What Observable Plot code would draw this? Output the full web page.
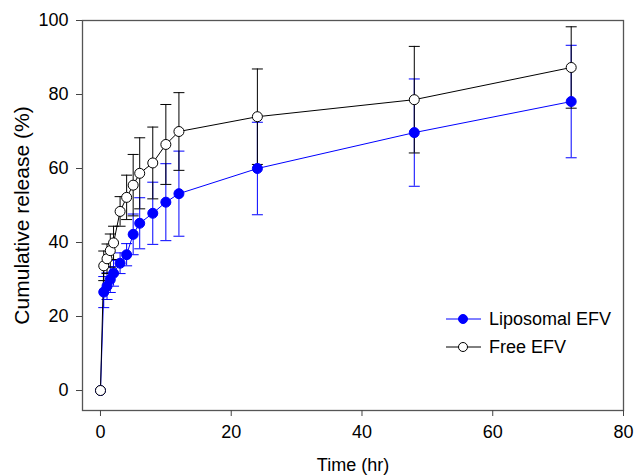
<!DOCTYPE html>
<html>
<head>
<meta charset="utf-8">
<script src="https://cdn.jsdelivr.net/npm/d3@7"></script>
<script src="https://cdn.jsdelivr.net/npm/@observablehq/plot@0.6"></script>
<style>
  html, body { margin: 0; padding: 0; background: #fff; }
  #wrap { position: relative; width: 636px; height: 475px; font-family: Arial, "Liberation Sans", sans-serif; }
  #legend { position: absolute; left: 440px; top: 300px; }
</style>
</head>
<body>
<div id="wrap">
  <div id="chart"></div>
  <svg id="legend" width="196" height="60"></svg>
</div>
<script>
// ---- data ----
const times    = [0, 0.5, 1, 1.5, 2, 3, 4, 5, 6, 8, 10, 12, 24, 48, 72];
const lipoMean = [0, 26.6, 28.2, 30.0, 31.7, 34.4, 36.7, 42.2, 45.2, 47.9, 50.9, 53.2, 60.0, 69.7, 78.1];
const lipoSD   = [0, 4.2, 3.6, 3.5, 3.5, 2.8, 3.0, 5.5, 6.9, 8.4, 10.4, 11.5, 12.5, 14.5, 15.2];
const freeMean = [0, 33.7, 35.6, 37.8, 39.9, 48.4, 52.2, 55.5, 58.7, 61.5, 66.5, 70.0, 74.0, 78.6, 87.3];
const freeSD   = [0, 4.0, 4.0, 4.5, 4.5, 4.0, 6.0, 8.3, 9.6, 9.7, 10.8, 10.5, 12.9, 14.4, 11.0];
const seriesNames = ["Liposomal EFV", "Free EFV"];
const xTicks = [0, 20, 40, 60, 80];
const yTicks = [0, 20, 40, 60, 80, 100];
const xLabel = "Time (hr)";
const yLabel = "Cumulative release (%)";

const lipo = times.map((t, i) => ({t, v: lipoMean[i], sd: lipoSD[i]}));
const free = times.map((t, i) => ({t, v: freeMean[i], sd: freeSD[i]}));

const BLUE = "#0000ff";
const BLACK = "#000000";

// horizontal cap symbol for error bars
const capSymbol = {
  draw(ctx, size) {
    const r = Math.sqrt(size / Math.PI);
    ctx.moveTo(-r, 0);
    ctx.lineTo(r, 0);
  }
};

function errMarks(data, color) {
  const d2 = data.filter(d => d.sd > 0);
  return [
    Plot.ruleX(d2, {x: "t", y1: d => d.v - d.sd, y2: d => d.v + d.sd, stroke: color, strokeWidth: 1}),
    Plot.dot(d2, {x: "t", y: d => d.v + d.sd, symbol: capSymbol, r: 5.5, stroke: color, fill: "none", strokeWidth: 1}),
    Plot.dot(d2, {x: "t", y: d => d.v - d.sd, symbol: capSymbol, r: 5.5, stroke: color, fill: "none", strokeWidth: 1})
  ];
}

const chart = Plot.plot({
  width: 636,
  height: 475,
  marginLeft: 82,
  marginRight: 13,
  marginTop: 20,
  marginBottom: 65,
  style: {fontFamily: "Arial, 'Liberation Sans', sans-serif", fontSize: "18px", color: "#000", background: "#fff"},
  x: {domain: [-2.75, 80]},
  y: {domain: [-5.4, 100]},
  marks: [
    ...errMarks(lipo, BLUE),
    ...errMarks(free, BLACK),
    Plot.line(lipo, {x: "t", y: "v", stroke: BLUE, strokeWidth: 1}),
    Plot.line(free, {x: "t", y: "v", stroke: BLACK, strokeWidth: 1}),
    Plot.dot(lipo, {x: "t", y: "v", r: 5, fill: BLUE, stroke: BLUE, strokeWidth: 1}),
    Plot.dot(free, {x: "t", y: "v", r: 5, fill: "#fff", stroke: BLACK, strokeWidth: 1}),
    Plot.frame({stroke: "#555", strokeWidth: 1.3}),
    Plot.axisX({ticks: xTicks, tickSize: 6, tickPadding: 9, label: null, stroke: "#444", fontSize: 18}),
    Plot.axisY({ticks: yTicks, tickSize: 6, tickPadding: 8, label: null, stroke: "#444", fontSize: 18}),
    Plot.text([xLabel], {frameAnchor: "bottom", dy: 55, lineAnchor: "middle", textAnchor: "middle", text: d => d, fontSize: 18}),
    Plot.text([yLabel], {frameAnchor: "left", dx: -60, rotate: -90, lineAnchor: "middle", textAnchor: "middle", text: d => d, fontSize: 21})
  ]
});
document.getElementById("chart").appendChild(chart);

// legend overlay
const leg = d3.select("#legend");
const legendItems = [
  {name: seriesNames[0], color: BLUE, fill: BLUE},
  {name: seriesNames[1], color: BLACK, fill: "#fff"}
];
legendItems.forEach((it, i) => {
  const y = 19 + i * 28;
  leg.append("line").attr("x1", 6).attr("x2", 41).attr("y1", y).attr("y2", y)
    .attr("stroke", it.color).attr("stroke-width", 1);
  leg.append("circle").attr("cx", 23).attr("cy", y).attr("r", 4.5)
    .attr("fill", it.fill).attr("stroke", it.color);
  leg.append("text").attr("x", 49).attr("y", y).attr("dy", "0.35em")
    .attr("font-family", "Arial, 'Liberation Sans', sans-serif").attr("font-size", 18)
    .attr("fill", "#000").text(it.name);
});
</script>
</body>
</html>
